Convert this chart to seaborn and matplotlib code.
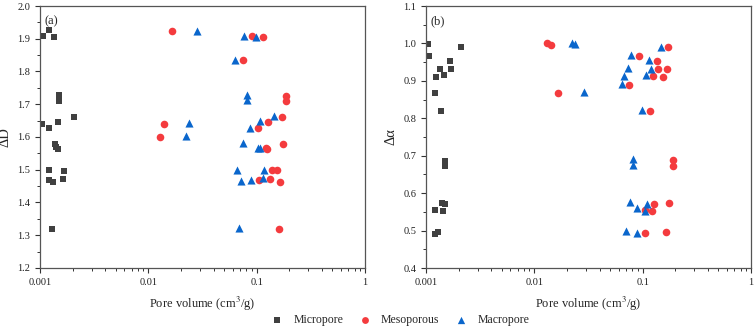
import matplotlib
matplotlib.use("Agg")
import matplotlib.pyplot as plt
import seaborn as sns
import pandas as pd
from matplotlib.ticker import MultipleLocator, FixedLocator, FixedFormatter, LogLocator, NullFormatter

# ---- panel (a): delta D vs pore volume ----
a_micro_x = [0.00106, 0.00122, 0.00135, 0.0015, 0.0015, 0.00104, 0.0012, 0.00148, 0.00206,
             0.00138, 0.00142, 0.00147, 0.0012, 0.0012, 0.00133, 0.00166, 0.00164, 0.00128]
a_micro_y = [1.908, 1.927, 1.904, 1.728, 1.71, 1.641, 1.626, 1.646, 1.661,
             1.58, 1.568, 1.563, 1.498, 1.47, 1.463, 1.496, 1.473, 1.32]
a_meso_x = [0.0164, 0.01396, 0.0129, 0.0901, 0.1153, 0.0743, 0.1868, 0.1868, 0.1703, 0.1267,
            0.1024, 0.174, 0.1213, 0.124, 0.1377, 0.153, 0.134, 0.105, 0.165, 0.161]
a_meso_y = [1.925, 1.641, 1.60, 1.908, 1.904, 1.834, 1.726, 1.709, 1.661, 1.646,
            1.626, 1.58, 1.565, 1.563, 1.498, 1.498, 1.473, 1.468, 1.463, 1.32]
a_macro_x = [0.0284, 0.0239, 0.0223, 0.0765, 0.098, 0.0631, 0.0815, 0.0815, 0.1456, 0.1075,
             0.087, 0.0754, 0.1037, 0.108, 0.0663, 0.117, 0.0718, 0.0882, 0.114, 0.0692]
a_macro_y = [1.925, 1.643, 1.602, 1.909, 1.906, 1.835, 1.728, 1.712, 1.664, 1.649,
             1.629, 1.582, 1.566, 1.566, 1.498, 1.498, 1.466, 1.47, 1.475, 1.322]

# ---- panel (b): delta alpha vs pore volume ----
b_micro_x = [0.00105, 0.00107, 0.00209, 0.00167, 0.0017, 0.00134, 0.00123, 0.00148, 0.00122,
             0.00137, 0.00151, 0.00151, 0.0014, 0.00151, 0.00122, 0.00144, 0.00121, 0.0013]
b_micro_y = [0.998, 0.966, 0.990, 0.954, 0.931, 0.933, 0.911, 0.915, 0.868,
             0.820, 0.686, 0.673, 0.574, 0.570, 0.556, 0.551, 0.492, 0.496]
b_meso_x = [0.013, 0.0142, 0.01667, 0.1727, 0.0926, 0.1368, 0.169, 0.140, 0.1256, 0.155,
            0.0754, 0.117, 0.192, 0.192, 0.176, 0.128, 0.123, 0.104, 0.164, 0.104]
b_meso_y = [1.0, 0.996, 0.868, 0.991, 0.966, 0.953, 0.933, 0.931, 0.914, 0.911,
            0.889, 0.820, 0.688, 0.672, 0.575, 0.571, 0.552, 0.556, 0.496, 0.493]
b_macro_x = [0.0222, 0.0238, 0.0288, 0.147, 0.0777, 0.1153, 0.0728, 0.119, 0.0673, 0.1075,
             0.0641, 0.0987, 0.082, 0.082, 0.0765, 0.0894, 0.109, 0.104, 0.0703, 0.0894]
b_macro_y = [1.0, 0.998, 0.869, 0.991, 0.969, 0.956, 0.935, 0.931, 0.913, 0.916,
             0.891, 0.822, 0.690, 0.675, 0.577, 0.559, 0.572, 0.552, 0.499, 0.494]

groups = ["Micropore", "Mesoporous", "Macropore"]
colors = {"Micropore": "#404040", "Mesoporous": "#f43b3e", "Macropore": "#0a66cc"}
markers = {"Micropore": "s", "Mesoporous": "o", "Macropore": "^"}
sizes = {"Micropore": 24, "Mesoporous": 30, "Macropore": 34}


def make_df(series):
    rows = []
    for g, xs, ys in series:
        for x, y in zip(xs, ys):
            rows.append({"x": x, "y": y, "type": g})
    return pd.DataFrame(rows)


df_a = make_df([("Micropore", a_micro_x, a_micro_y),
                ("Mesoporous", a_meso_x, a_meso_y),
                ("Macropore", a_macro_x, a_macro_y)])
df_b = make_df([("Micropore", b_micro_x, b_micro_y),
                ("Mesoporous", b_meso_x, b_meso_y),
                ("Macropore", b_macro_x, b_macro_y)])

sns.set_style("ticks")
plt.rcParams["font.family"] = ["Liberation Serif", "DejaVu Serif"]
plt.rcParams["mathtext.fontset"] = "stix"

fig = plt.figure(figsize=(7.54, 3.28), dpi=100)
ax1 = fig.add_axes([40 / 754, 60 / 328, 325 / 754, 262 / 328])
ax2 = fig.add_axes([426 / 754, 60 / 328, 325 / 754, 262 / 328])


def draw(ax, df, ylab, ylim, tag):
    for g in groups:
        sub = df[df["type"] == g]
        sns.scatterplot(data=sub, x="x", y="y", color=colors[g], marker=markers[g],
                        s=sizes[g], linewidth=0, ax=ax, label=g, legend=False)
    ax.set_xscale("log")
    ax.set_xlim(0.001, 1)
    ax.set_ylim(*ylim)
    ax.xaxis.set_major_locator(FixedLocator([0.001, 0.01, 0.1, 1]))
    ax.xaxis.set_major_formatter(FixedFormatter(["0.001", "0.01", "0.1", "1"]))
    ax.xaxis.set_minor_locator(LogLocator(base=10, subs=range(2, 10)))
    ax.xaxis.set_minor_formatter(NullFormatter())
    ax.yaxis.set_major_locator(MultipleLocator(0.1))
    ax.yaxis.set_minor_locator(MultipleLocator(0.05))
    ax.yaxis.set_major_formatter(plt.FuncFormatter(lambda v, p: f"{v:.1f}"))
    ax.tick_params(which="major", direction="out", length=3.5, width=0.8,
                   labelsize=7.5, colors="#333333", labelcolor="#222222")
    ax.tick_params(which="minor", direction="out", length=2, width=0.7, colors="#333333")
    for sp in ax.spines.values():
        sp.set_color("#555555")
        sp.set_linewidth(0.9)
    ax.set_xlabel("Pore volume (cm$^3$/g)", fontsize=9, labelpad=6)
    ax.set_ylabel(ylab, fontsize=10.5, labelpad=4)
    ax.text(0.015, 0.965, tag, transform=ax.transAxes, fontsize=9, va="top", ha="left")


draw(ax1, df_a, "ΔD", (1.2, 2.0), "(a)")
draw(ax2, df_b, "Δα", (0.4, 1.1), "(b)")

handles, labels = ax1.get_legend_handles_labels()
fig.legend(handles, labels, loc="center", bbox_to_anchor=(400 / 754, 8 / 328), ncol=3,
           frameon=False, fontsize=8.5, handlelength=1.0, handletextpad=0.9,
           columnspacing=1.3, markerscale=0.9, borderpad=0.2)

fig.savefig("out.png", dpi=100)
